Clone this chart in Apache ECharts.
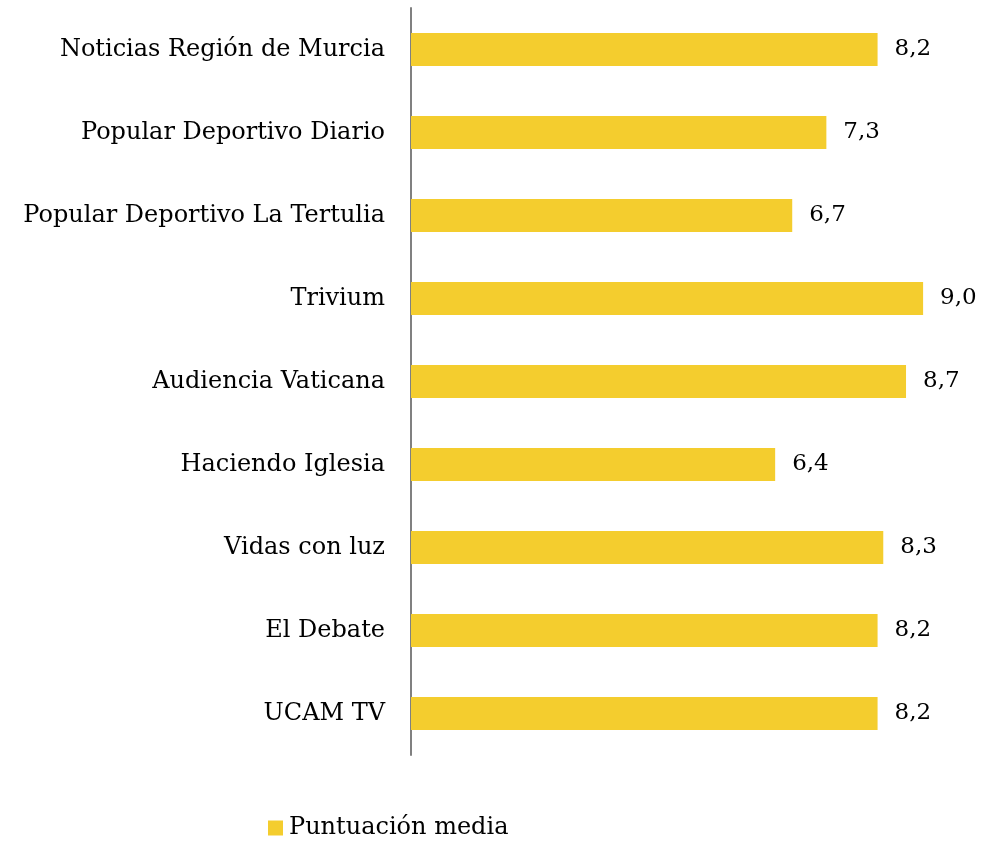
<!DOCTYPE html>
<html>
<head>
<meta charset="utf-8">
<script src="https://cdn.jsdelivr.net/npm/echarts@6/dist/echarts.min.js"></script>
<style>
  html, body { margin: 0; padding: 0; background: #fff; }
  #chart { width: 984px; height: 841px; }
</style>
</head>
<body>
<div id="chart"></div>
<script>
// programas, de arriba a abajo
const categories = [
  'Noticias Región de Murcia',
  'Popular Deportivo Diario',
  'Popular Deportivo La Tertulia',
  'Trivium',
  'Audiencia Vaticana',
  'Haciendo Iglesia',
  'Vidas con luz',
  'El Debate',
  'UCAM TV'
]
const scores = [8.2, 7.3, 6.7, 9.0, 8.7, 6.4, 8.3, 8.2, 8.2]
const seriesName = 'Puntuación media'

const fontFamily = '"DejaVu Serif", "Liberation Serif", serif'
const chart = echarts.init(document.getElementById('chart'))

chart.setOption({
  animation: false,
  textStyle: { fontFamily },
  grid: { left: 411, right: 4, top: 8, bottom: 86 },
  legend: {
    data: [seriesName],
    top: 816,
    left: 268,
    padding: 0,
    icon: 'rect',
    itemWidth: 15,
    itemHeight: 15,
    itemGap: 6,
    textStyle: { fontFamily, fontSize: 24, color: '#000', padding: [0, 0, 0, 1] }
  },
  xAxis: {
    type: 'value',
    min: 0,
    max: 10,
    show: false
  },
  yAxis: {
    type: 'category',
    data: categories,
    inverse: true,
    axisLine: { lineStyle: { color: '#808080', width: 2 } },
    axisTick: { show: false },
    axisLabel: { color: '#000', fontSize: 24, margin: 26, fontFamily }
  },
  series: [{
    name: seriesName,
    type: 'bar',
    data: scores,
    barWidth: 33,
    itemStyle: { color: '#F4CD2E' },
    label: {
      show: true,
      position: 'right',
      distance: 17,
      color: '#000',
      fontSize: 23,
      fontFamily,
      formatter: p => p.value.toFixed(1).replace('.', ',')
    }
  }]
})
</script>
</body>
</html>
